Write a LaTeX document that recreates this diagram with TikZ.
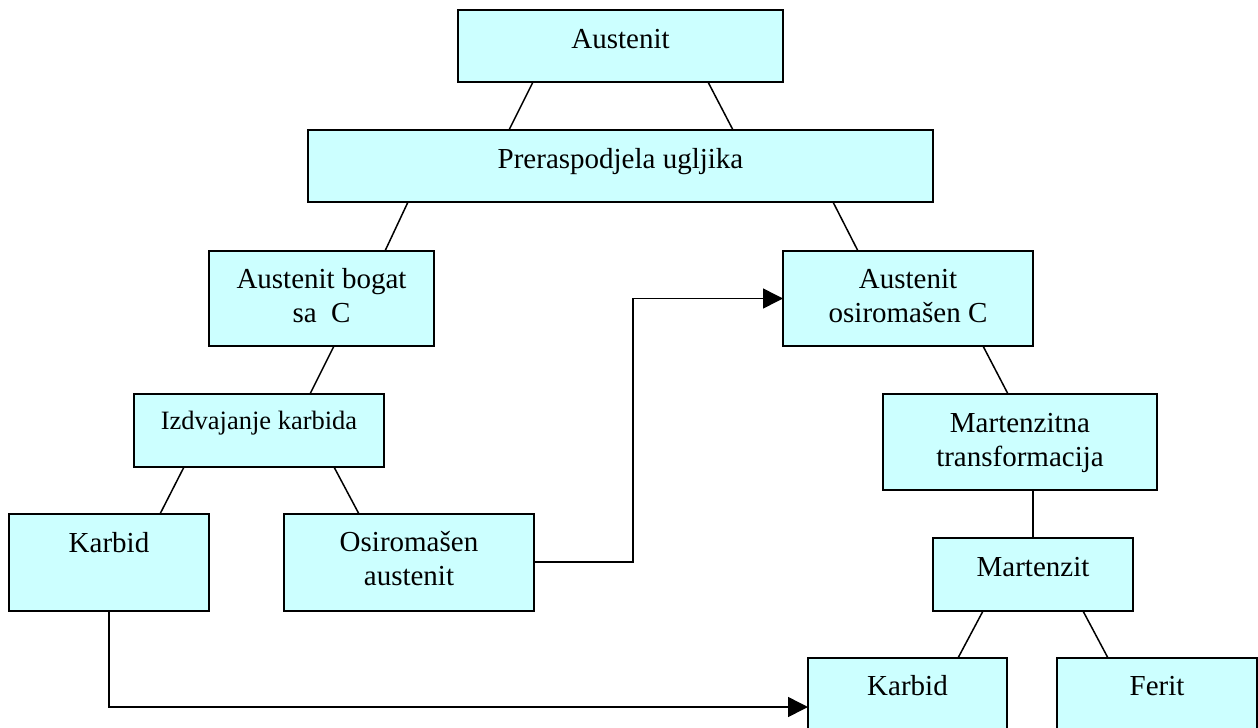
\documentclass[tikz,border=0pt]{standalone}
\usepackage{fontspec}
\setmainfont{Liberation Serif}
\usetikzlibrary{arrows.meta}
\definecolor{boxfill}{HTML}{CCFFFF}
\tikzset{
  box/.style={draw=black, fill=boxfill, line width=1.8pt, inner sep=0pt, outer sep=0pt, anchor=north west, rectangle},
  txt/.style={inner sep=0pt, anchor=base, align=center, font=\fontsize{29}{34}\selectfont},
  conn/.style={draw=black, line width=1.5pt},
  arr/.style={conn, -{Triangle[length=20pt,width=20pt]}}
}
\begin{document}
\begin{tikzpicture}[x=1pt,y=-1pt]
\path[use as bounding box] (0,0) rectangle (1258,728);
\clip (0,0) rectangle (1258,728);
% boxes
\node[box, minimum width=325pt, minimum height=72pt] (aus) at (458,10) {};
\node[box, minimum width=625pt, minimum height=72pt] (pre) at (308,130) {};
\node[box, minimum width=225pt, minimum height=95pt] (bog) at (209,251) {};
\node[box, minimum width=250pt, minimum height=95pt] (osi) at (783,251) {};
\node[box, minimum width=250pt, minimum height=73pt] (izd) at (134,394) {};
\node[box, minimum width=274pt, minimum height=96pt] (mtr) at (883,394) {};
\node[box, minimum width=200pt, minimum height=97pt] (karL) at (9,514) {};
\node[box, minimum width=250pt, minimum height=97pt] (osa) at (284,514) {};
\node[box, minimum width=200pt, minimum height=73pt] (mar) at (933,538) {};
\node[box, minimum width=199pt, minimum height=97pt] (karB) at (808,658) {};
\node[box, minimum width=200pt, minimum height=97pt] (fer) at (1057,658) {};
% texts
\node[txt] (taus) at (620.5,48) {Austenit};
\node[txt] (tpre) at (620.5,168) {Preraspodjela ugljika};
\node[txt] (tbog) at (321.5,322) {Austenit bogat\\sa~ C};
\node[txt] (tosi) at (908,322) {Austenit\\osiromašen C};
\node[txt, font=\fontsize{26.5}{32}\selectfont] (tizd) at (259,429) {Izdvajanje karbida};
\node[txt] (tmtr) at (1020,466) {Martenzitna\\transformacija};
\node[txt] (tkarL) at (109,552) {Karbid};
\node[txt] (tosa) at (409,585) {Osiromašen\\austenit};
\node[txt] (tmar) at (1033,576) {Martenzit};
\node[txt] (tkarB) at (907.5,695) {Karbid};
\node[txt] (tfer) at (1157,695) {Ferit};
% connectors
\draw[conn] ([xshift=75pt]aus.south west) -- ([xshift=201pt]pre.north west);
\draw[conn] ([xshift=250pt]aus.south west) -- ([xshift=425pt]pre.north west);
\draw[conn] ([xshift=100pt]pre.south west) -- ([xshift=176pt]bog.north west);
\draw[conn] ([xshift=525pt]pre.south west) -- ([xshift=75pt]osi.north west);
\draw[conn] ([xshift=125pt]bog.south west) -- ([xshift=176pt]izd.north west);
\draw[conn] ([xshift=50pt]izd.south west) -- ([xshift=151pt]karL.north west);
\draw[conn] ([xshift=200pt]izd.south west) -- ([xshift=75pt]osa.north west);
\draw[conn] ([xshift=200pt]osi.south west) -- ([xshift=125pt]mtr.north west);
\draw[conn] ([xshift=150pt]mtr.south west) -- ([xshift=100pt]mar.north west);
\draw[conn] ([xshift=50pt]mar.south west) -- ([xshift=150pt]karB.north west);
\draw[conn] ([xshift=150pt]mar.south west) -- ([xshift=51pt]fer.north west);
% arrows
\coordinate (bendA) at (633,562);
\draw[arr] ([yshift=-48pt]osa.north east) -- (bendA) |- (osi.west);
\draw[arr] ([xshift=100pt]karL.south west) |- ([yshift=-49pt]karB.north west);
\end{tikzpicture}
\end{document}
